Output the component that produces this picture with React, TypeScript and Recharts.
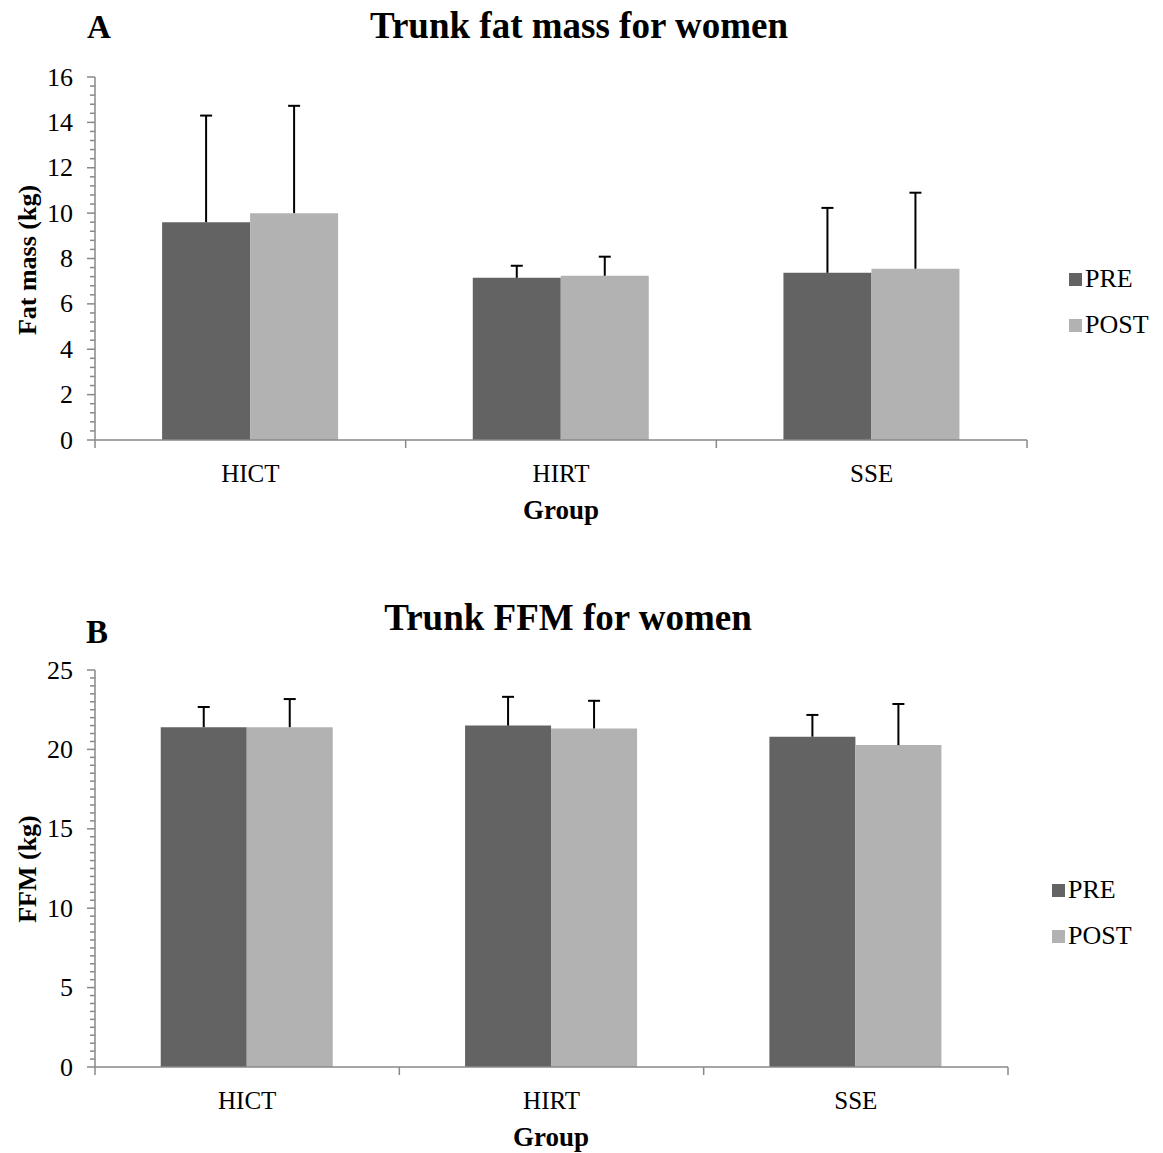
import React from "react";
import { Bar, BarChart, XAxis, YAxis } from "recharts";

const groups = ["HICT", "HIRT", "SSE"];

// panel A: trunk fat mass (kg)
const fatPre = [9.6, 7.15, 7.37];
const fatPreSd = [4.7, 0.53, 2.86];
const fatPost = [10.0, 7.24, 7.55];
const fatPostSd = [4.73, 0.84, 3.35];
const fatTicks = [0, 2, 4, 6, 8, 10, 12, 14, 16];

// panel B: trunk FFM (kg)
const ffmPre = [21.4, 21.5, 20.8];
const ffmPreSd = [1.27, 1.81, 1.37];
const ffmPost = [21.4, 21.32, 20.27];
const ffmPostSd = [1.77, 1.74, 2.59];
const ffmTicks = [0, 5, 10, 15, 20, 25];

const PRE = "#636363";
const POST = "#b2b2b2";
const AXIS = "#888888";
const FONT = '"Liberation Serif", "Times New Roman", serif';

const makeRows = (pre: number[], preSd: number[], post: number[], postSd: number[]) =>
  groups.map((g, i) => ({ group: g, pre: pre[i], preErr: preSd[i], post: post[i], postErr: postSd[i] }));

const fatRows = makeRows(fatPre, fatPreSd, fatPost, fatPostSd);
const ffmRows = makeRows(ffmPre, ffmPreSd, ffmPost, ffmPostSd);

// minor tick positions between the labelled ones
const withMinor = (majors: number[], parts: number) => {
  const out: number[] = [];
  for (let i = 0; i < majors.length - 1; i++) {
    const step = (majors[i + 1] - majors[i]) / parts;
    for (let k = 0; k < parts; k++) out.push(Number((majors[i] + k * step).toFixed(2)));
  }
  out.push(majors[majors.length - 1]);
  return out;
};

const YTick = (props: any) => {
  const { x, y, payload, majors } = props;
  const major = majors.includes(payload.value);
  return (
    <g>
      <line x1={x - (major ? 8 : 5)} x2={x} y1={y} y2={y} stroke={AXIS} strokeWidth={1.5} />
      {major && (
        <text x={x - 22} y={y} textAnchor="end" dominantBaseline="central" fontFamily={FONT} fontSize={26} fill="#000">
          {payload.value}
        </text>
      )}
    </g>
  );
};

const XTick = (props: any) => {
  const { x, y, payload, index, band } = props;
  return (
    <g>
      <line x1={x - band / 2} x2={x - band / 2} y1={y} y2={y + 8} stroke={AXIS} strokeWidth={1.5} />
      {index === groups.length - 1 && (
        <line x1={x + band / 2} x2={x + band / 2} y1={y} y2={y + 8} stroke={AXIS} strokeWidth={1.5} />
      )}
      <text x={x} y={y + 33} textAnchor="middle" dominantBaseline="central" fontFamily={FONT} fontSize={25} fill="#000">
        {payload.value}
      </text>
    </g>
  );
};

// upper-only error whisker, drawn on a transparent stacked segment
const ErrShape = (props: any) => {
  const { x, y, width, height } = props;
  const cx = x + width / 2;
  return (
    <g>
      <line x1={cx} x2={cx} y1={y} y2={y + height} stroke="#000" strokeWidth={2} />
      <line x1={cx - 6} x2={cx + 6} y1={y} y2={y} stroke="#000" strokeWidth={2} />
    </g>
  );
};

const Text = ({ x, y, size, bold, children, rotate }: any) => (
  <div
    style={{
      position: "absolute",
      left: x,
      top: y,
      transform: `translate(-50%, -50%)${rotate ? " rotate(-90deg)" : ""}`,
      fontFamily: FONT,
      fontSize: size,
      fontWeight: bold ? "bold" : "normal",
      whiteSpace: "nowrap",
      color: "#000",
      lineHeight: 1,
    }}
  >
    {children}
  </div>
);

const LegendItem = ({ x, y, color, label }: any) => (
  <div style={{ position: "absolute", left: x, top: y - 13, display: "flex", alignItems: "center", height: 26, fontFamily: FONT, fontSize: 26 }}>
    <div style={{ width: 13, height: 13, background: color, marginRight: 3 }} />
    <span>{label}</span>
  </div>
);

const Panel = ({ rows, ticks, parts, width, height, margin, band }: any) => (
  <BarChart width={width} height={height} data={rows} margin={margin} barGap={0} barCategoryGap="21.6%">
    <XAxis
      dataKey="group"
      height={30}
      interval={0}
      tickLine={false}
      tickSize={0}
      tickMargin={0}
      axisLine={{ stroke: AXIS, strokeWidth: 1.5 }}
      tick={(p: any) => <XTick {...p} band={band} />}
    />
    <YAxis
      width={60}
      domain={[ticks[0], ticks[ticks.length - 1]]}
      ticks={withMinor(ticks, parts)}
      interval={0}
      tickLine={false}
      tickSize={0}
      tickMargin={0}
      axisLine={{ stroke: AXIS, strokeWidth: 1.5 }}
      tick={(p: any) => <YTick {...p} majors={ticks} />}
    />
    <Bar dataKey="pre" stackId="pre" fill={PRE} isAnimationActive={false} />
    <Bar dataKey="preErr" stackId="pre" fill="none" shape={ErrShape} isAnimationActive={false} />
    <Bar dataKey="post" stackId="post" fill={POST} isAnimationActive={false} />
    <Bar dataKey="postErr" stackId="post" fill="none" shape={ErrShape} isAnimationActive={false} />
  </BarChart>
);

export default function App() {
  return (
    <div style={{ position: "absolute", left: 0, top: 0, width: 1163, height: 1153, background: "#fff" }}>
      <div style={{ position: "absolute", left: 0, top: 0 }}>
        <Panel
          rows={fatRows}
          ticks={fatTicks}
          parts={5}
          width={1163}
          height={560}
          margin={{ top: 77, right: 136, bottom: 90, left: 35 }}
          band={(1027 - 95) / 3}
        />
      </div>
      <div style={{ position: "absolute", left: 0, top: 560 }}>
        <Panel
          rows={ffmRows}
          ticks={ffmTicks}
          parts={10}
          width={1163}
          height={593}
          margin={{ top: 110, right: 155, bottom: 56, left: 35 }}
          band={(1008 - 95) / 3}
        />
      </div>

      <Text x={99} y={27} size={33} bold>A</Text>
      <Text x={579} y={25} size={37} bold>Trunk fat mass for women</Text>
      <Text x={28} y={260} size={26} bold rotate>Fat mass (kg)</Text>
      <Text x={561} y={510} size={27} bold>Group</Text>
      <LegendItem x={1069} y={279} color={PRE} label="PRE" />
      <LegendItem x={1069} y={325} color={POST} label="POST" />

      <Text x={97} y={632} size={33} bold>B</Text>
      <Text x={568} y={617} size={37} bold>Trunk FFM for women</Text>
      <Text x={28} y={869} size={26} bold rotate>FFM (kg)</Text>
      <Text x={551} y={1137} size={27} bold>Group</Text>
      <LegendItem x={1052} y={890} color={PRE} label="PRE" />
      <LegendItem x={1052} y={936} color={POST} label="POST" />
    </div>
  );
}
